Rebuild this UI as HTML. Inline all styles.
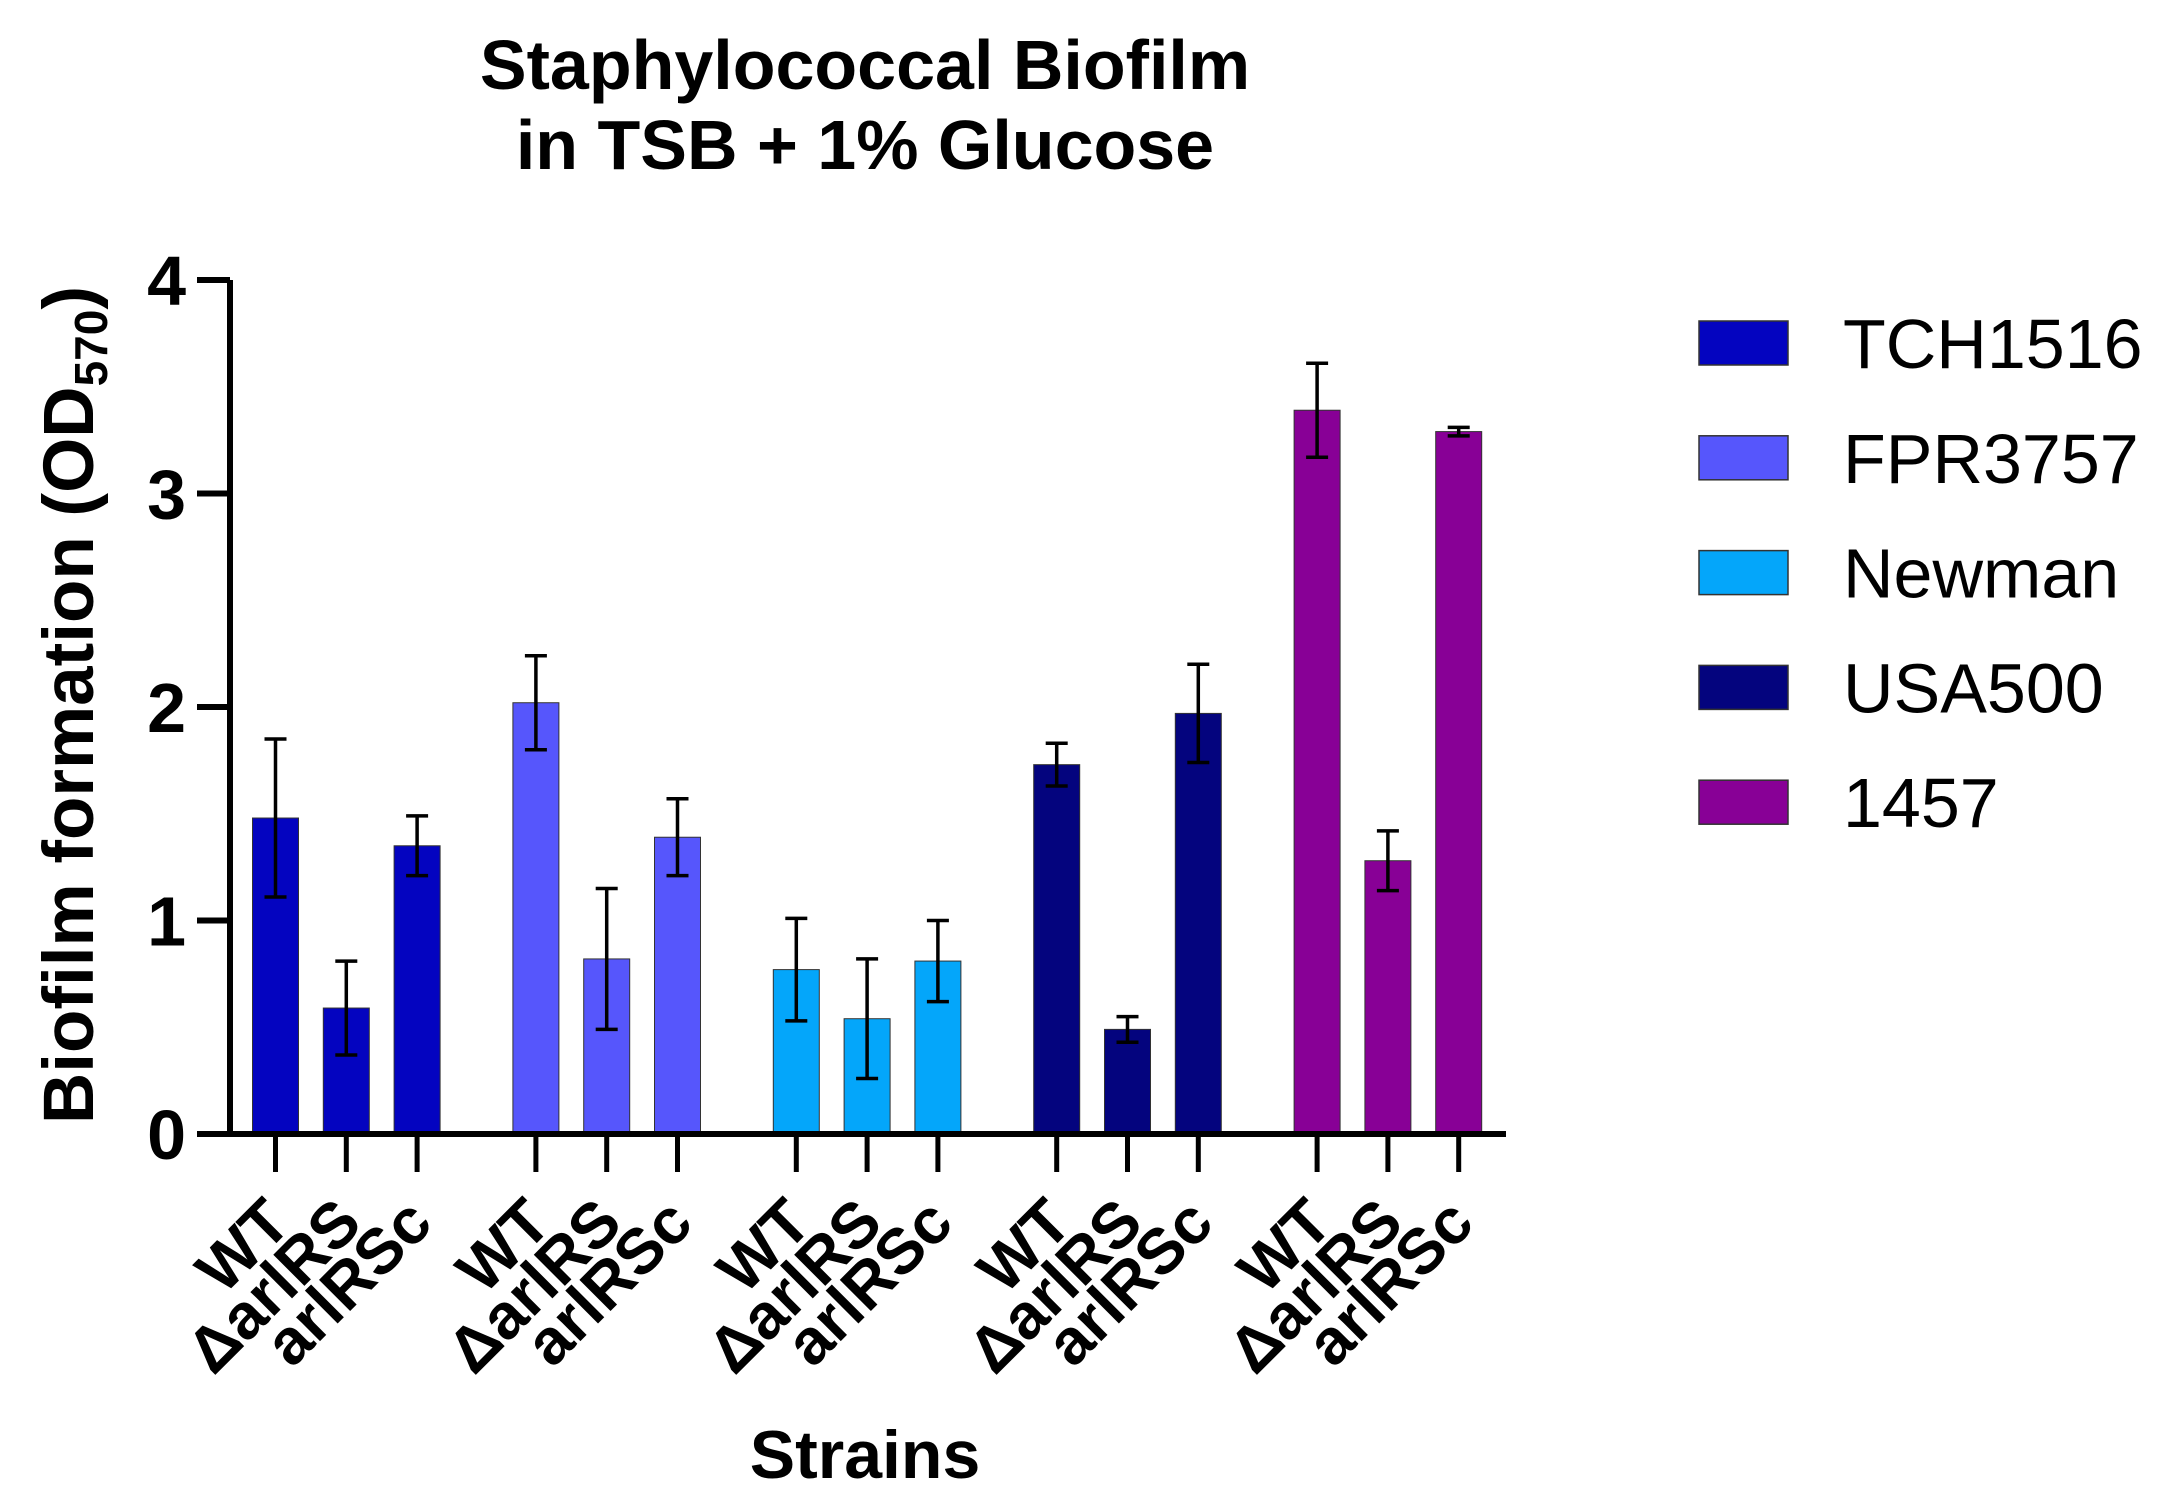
<!DOCTYPE html>
<html><head><meta charset="utf-8"><style>
html,body{margin:0;padding:0;background:#fff;}
svg{display:block;font-family:"Liberation Sans",Arial,sans-serif;}
</style></head><body>
<svg id="chart" width="2160" height="1506" viewBox="0 0 2160 1506">
<g>
<text x="865" y="89" text-anchor="middle" font-weight="bold" font-size="70">Staphylococcal Biofilm</text>
<text x="865" y="169" text-anchor="middle" font-weight="bold" font-size="70">in TSB + 1% Glucose</text>
</g>
<text transform="translate(93,705) rotate(-90)" text-anchor="middle" font-weight="bold" font-size="71">Biofilm formation (OD<tspan font-size="46" dy="14">570</tspan><tspan dy="-14">)</tspan></text>
<text x="865" y="1478" text-anchor="middle" font-weight="bold" font-size="68">Strains</text>
<g id="plot"></g>
<g id="legend"></g>
</svg>
<script>
const strains = ["TCH1516","FPR3757","Newman","USA500","1457"];
const colors = ["#0404c0","#5656fc","#04a6fa","#04047e","#880096"];
const conditions = ["WT","\u0394arlRS","arlRSc"];
const means = [[1.48,0.59,1.35],[2.02,0.82,1.39],[0.77,0.54,0.81],[1.73,0.49,1.97],[3.39,1.28,3.29]];
const errs = [[0.37,0.22,0.14],[0.22,0.33,0.18],[0.24,0.28,0.19],[0.10,0.06,0.23],[0.22,0.14,0.02]];
const yTicks = [0,1,2,3,4];

const NS="http://www.w3.org/2000/svg";
const y0=1134, yTop=280, yMax=4;
function yScale(v){return y0-(v/yMax)*(y0-yTop);}
function xScale(g,i){return 275.5+g*260.4+i*70.8;}
function mk(tag,attrs,parent){const e=document.createElementNS(NS,tag);for(const k in attrs)e.setAttribute(k,attrs[k]);parent.appendChild(e);return e;}
const plot=document.getElementById('plot');
const bw=46;
strains.forEach((s,g)=>{
  conditions.forEach((c,i)=>{
    const x=xScale(g,i), v=means[g][i], e=errs[g][i];
    const r=mk('rect',{x:x-bw/2,y:yScale(v),width:bw,height:y0-yScale(v),fill:colors[g],stroke:"#333",'stroke-width':1},plot);
    
    
    const eb=mk('path',{d:`M${x},${yScale(v+e)}V${yScale(v-e)}M${x-11},${yScale(v+e)}h22M${x-11},${yScale(v-e)}h22`,stroke:"#000",'stroke-width':3.5,fill:"none"},plot);
    
    
    const tk=mk('line',{x1:x,x2:x,y1:y0,y2:1172,stroke:"#000",'stroke-width':5},plot);
    
    
    const t=mk('text',{transform:`translate(${x+18},${1226}) rotate(-45)`,'text-anchor':'end','font-weight':'bold','font-size':64},plot);
    t.textContent=c;
    
    
  });
});
const ax=mk('path',{d:`M230,${yTop}V${y0}M197,${y0}H1506`,stroke:"#000",'stroke-width':6,fill:"none"},plot);


yTicks.forEach(v=>{
  const l=mk('line',{x1:197,x2:230,y1:yScale(v),y2:yScale(v),stroke:"#000",'stroke-width':6},plot);
  
  
  const t=mk('text',{x:186,y:yScale(v)+25,'text-anchor':'end','font-weight':'bold','font-size':70},plot);
  t.textContent=v;
  
  
});
const leg=document.getElementById('legend');
strains.forEach((s,g)=>{
  const cy=343+g*114.8;
  const r=mk('rect',{x:1699,y:cy-22,width:89,height:44,fill:colors[g],stroke:"#333",'stroke-width':1.5},leg);
  
  
  const t=mk('text',{x:1843,y:cy+25,'font-size':70},leg);
  t.textContent=s;
  
  
});
</script>
</body></html>
